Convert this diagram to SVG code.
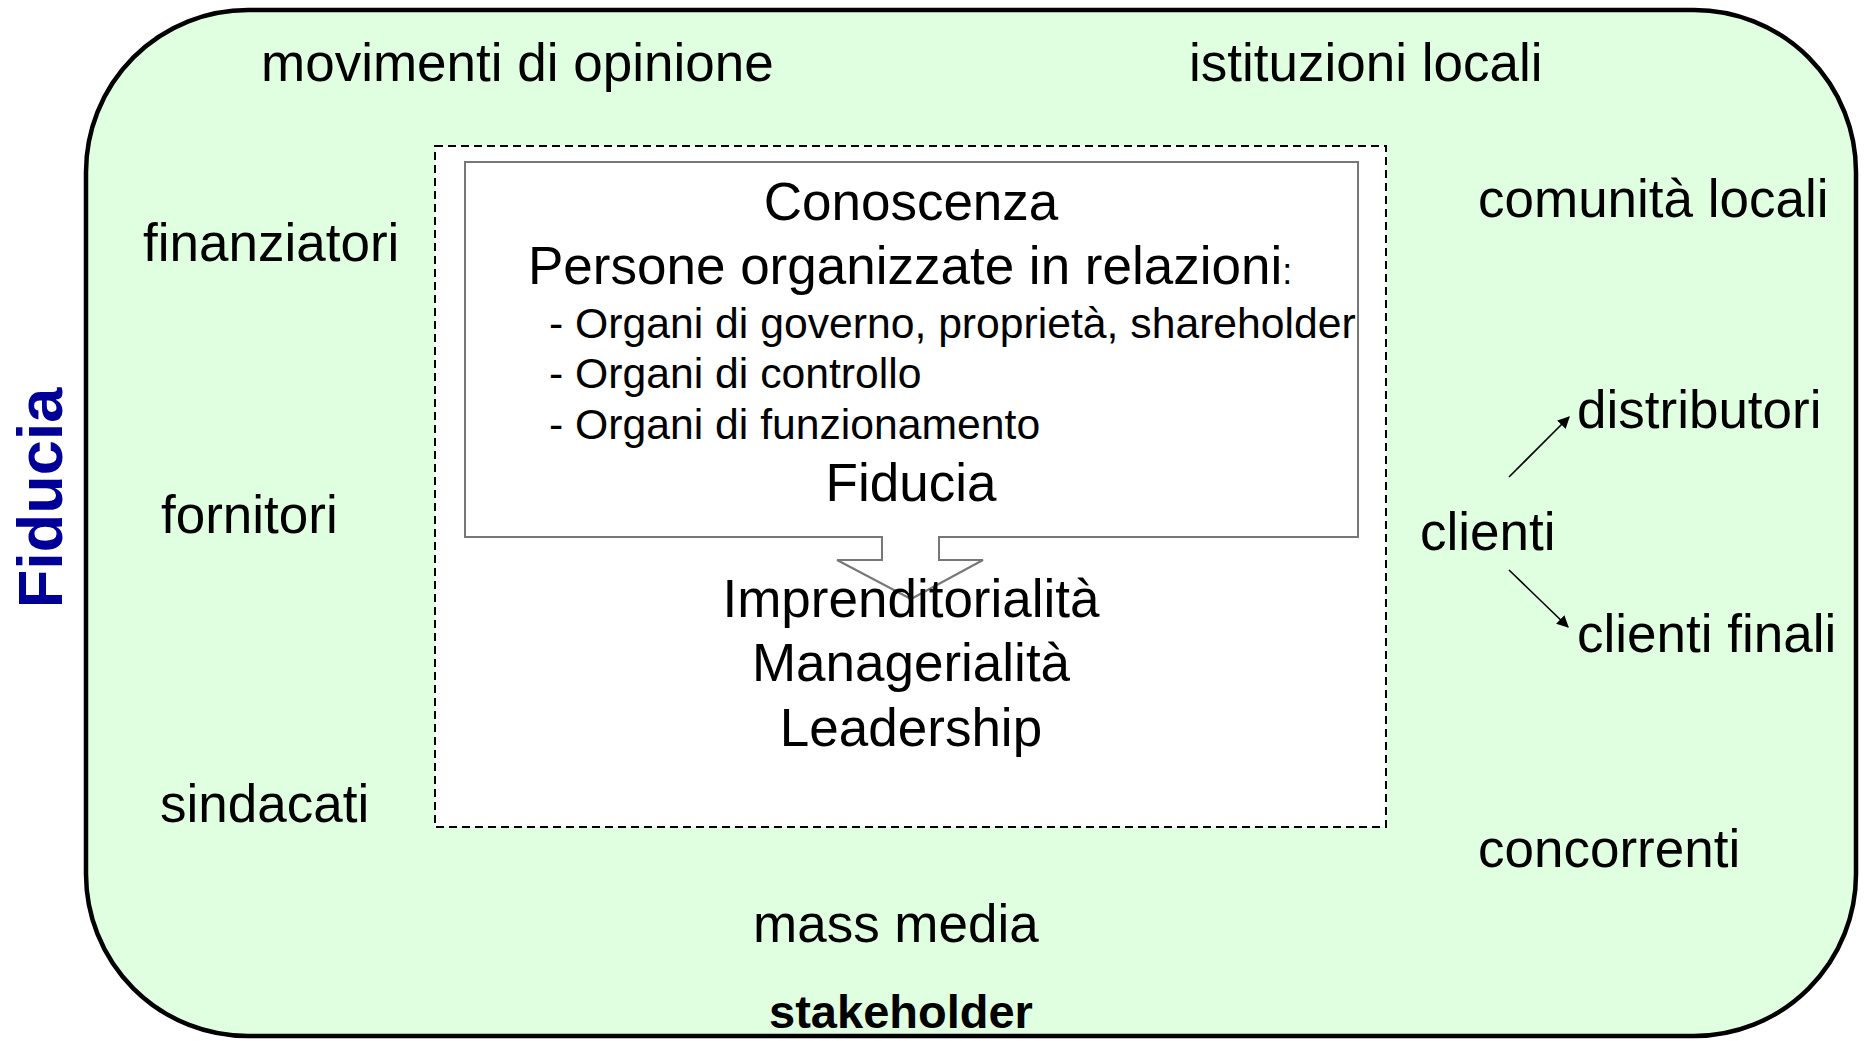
<svg xmlns="http://www.w3.org/2000/svg" width="1865" height="1041" viewBox="0 0 1865 1041">
<style>
text{font-family:"Liberation Sans",Arial,sans-serif;fill:#000}
.t{font-size:53px}
.s{font-size:42.7px}
.c{text-anchor:middle}
.conn{stroke:#000;stroke-width:1.6;fill:none}
</style>
<defs>
<marker id="ah" viewBox="0 0 10 10" refX="9" refY="5" markerWidth="12" markerHeight="12" markerUnits="userSpaceOnUse" orient="auto">
<path d="M0,0 L10,5 L0,10 Z" fill="#000"/>
</marker>
</defs>
<rect width="1865" height="1041" fill="#fff"/>
<g id="stakeholder-area">
<rect x="86" y="10" width="1770" height="1026" rx="162" ry="162" fill="#e0ffe0" stroke="#000" stroke-width="4.5"/>
<text x="901" y="1028" class="c" style="font-size:47px;font-weight:bold">stakeholder</text>
</g>
<g id="fiducia-label">
<text transform="translate(62,498) rotate(-90)" class="c" style="font-size:63px;font-weight:bold;fill:#000099">Fiducia</text>
</g>
<g id="impresa">
<rect x="435" y="146" width="951" height="681" fill="#fff" stroke="#000" stroke-width="2" stroke-dasharray="8,5"/>
</g>
<g id="conoscenza">
<path d="M465,162 H1358 V537 H939 V560 H983 L911,599 L837,560 H882 V537 H465 Z" fill="#fff" stroke="#777" stroke-width="2"/>
<text x="911" y="220" class="t c">Conoscenza</text>
<text x="528" y="284" class="t">Persone organizzate in relazioni<tspan style="font-size:36px">:</tspan></text>
<text x="549" y="338" class="s">- Organi di governo, proprietà, shareholder</text>
<text x="549" y="388" class="s">- Organi di controllo</text>
<text x="549" y="439" class="s">- Organi di funzionamento</text>
<text x="911" y="501" class="t c">Fiducia</text>
</g>
<g id="capacita">
<text x="911" y="617" class="t c">Imprenditorialità</text>
<text x="911" y="681" class="t c">Managerialità</text>
<text x="911" y="746" class="t c">Leadership</text>
</g>
<g id="movimenti"><text x="261" y="81" class="t">movimenti di opinione</text></g>
<g id="istituzioni"><text x="1189" y="81" class="t">istituzioni locali</text></g>
<g id="comunita"><text x="1478" y="217" class="t">comunità locali</text></g>
<g id="finanziatori"><text x="143" y="261" class="t">finanziatori</text></g>
<g id="fornitori"><text x="161" y="533" class="t">fornitori</text></g>
<g id="sindacati"><text x="160" y="822" class="t">sindacati</text></g>
<g id="clienti"><text x="1420" y="550" class="t">clienti</text></g>
<g id="distributori"><text x="1577" y="428" class="t">distributori</text></g>
<g id="clienti-finali"><text x="1577" y="652" class="t">clienti finali</text></g>
<g id="concorrenti"><text x="1478" y="867" class="t">concorrenti</text></g>
<g id="mass-media"><text x="753" y="942" class="t">mass media</text></g>
<g id="connectors">
<line x1="1509" y1="477" x2="1569" y2="417" class="conn" marker-end="url(#ah)"/>
<line x1="1509" y1="570" x2="1568" y2="627" class="conn" marker-end="url(#ah)"/>
</g>
</svg>
